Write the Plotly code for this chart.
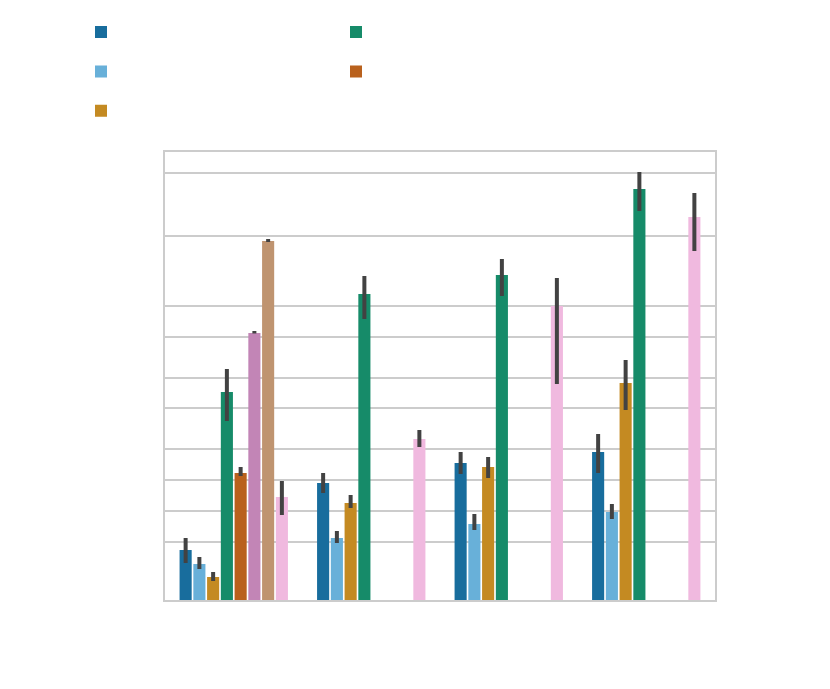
import plotly.graph_objects as go

CATEGORIES = ["A", "B", "C", "D"]

# hue order, colours (desaturated colorblind palette)
HUES = ["h1", "h2", "h3", "h4", "h5", "h6", "h7", "h8"]
COLORS = ["#186d9d", "#68b0d9", "#c48a22", "#168b69", "#b9611d", "#c285b6", "#bf9470", "#f0b9df"]
IN_LEGEND = [True, True, True, True, True, False, False, False]
LEGEND_RANK = [1, 3, 5, 2, 4, 6, 7, 8]

# bar means and confidence intervals per hue, one value per category (None = absent)
MEANS = {
    "h1": [5.0, 11.7, 13.7, 14.8],
    "h2": [3.6, 6.2, 7.6, 8.8],
    "h3": [2.3, 9.7, 13.3, 21.7],
    "h4": [20.8, 30.6, 32.5, 41.1],
    "h5": [12.7, None, None, None],
    "h6": [26.7, None, None, None],
    "h7": [35.9, None, None, None],
    "h8": [10.3, 16.1, 29.4, 38.3],
}
CI_LOW = {
    "h1": [3.7, 10.7, 12.6, 12.7],
    "h2": [3.1, 5.7, 7.0, 8.1],
    "h3": [1.9, 9.2, 12.2, 19.0],
    "h4": [17.9, 28.1, 30.4, 38.9],
    "h5": [12.4, None, None, None],
    "h6": [26.65, None, None, None],
    "h7": [35.8, None, None, None],
    "h8": [8.5, 15.3, 21.6, 34.9],
}
CI_HIGH = {
    "h1": [6.2, 12.7, 14.8, 16.6],
    "h2": [4.3, 6.9, 8.6, 9.6],
    "h3": [2.8, 10.5, 14.3, 24.0],
    "h4": [23.1, 32.4, 34.1, 42.8],
    "h5": [13.3, None, None, None],
    "h6": [26.9, None, None, None],
    "h7": [36.1, None, None, None],
    "h8": [11.9, 17.0, 32.2, 40.7],
}

GRID_VALUES = [5.8, 8.9, 12.0, 15.1, 19.2, 22.2, 26.3, 29.4, 36.4, 42.7]

fig = go.Figure()
for i, h in enumerate(HUES):
    xs, ys, up, dn = [], [], [], []
    for c, m, lo, hi in zip(CATEGORIES, MEANS[h], CI_LOW[h], CI_HIGH[h]):
        if m is None:
            continue
        xs.append(c)
        ys.append(m)
        up.append(hi - m)
        dn.append(m - lo)
    fig.add_trace(
        go.Bar(
            x=xs,
            y=ys,
            name=h,
            marker=dict(color=COLORS[i], line=dict(width=0)),
            showlegend=IN_LEGEND[i],
            legendrank=LEGEND_RANK[i],
            error_y=dict(type="data", array=up, arrayminus=dn, color="#424242", thickness=4, width=0),
        )
    )

fig.update_layout(
    width=830,
    height=689,
    barmode="group",
    bargap=0.2,
    bargroupgap=0.12,
    paper_bgcolor="white",
    plot_bgcolor="white",
    font=dict(family="DejaVu Sans", color="white", size=14),
    margin=dict(l=157, r=123, t=144, b=97, autoexpand=False),
    legend=dict(
        orientation="h",
        x=-0.18,
        xanchor="left",
        y=1.323,
        yanchor="top",
        entrywidth=180,
        entrywidthmode="pixels",
        font=dict(size=28, color="white"),
        itemwidth=60,
        tracegroupgap=0,
    ),
)
fig.update_xaxes(
    categoryorder="array",
    categoryarray=CATEGORIES,
    range=[-0.5, 3.5],
    showgrid=False,
    showline=True,
    linecolor="#cccccc",
    linewidth=2,
    mirror=True,
    ticks="",
    showticklabels=False,
)
fig.update_yaxes(
    range=[0, 44.8],
    tickvals=GRID_VALUES,
    showgrid=True,
    gridcolor="#cccccc",
    gridwidth=1.5,
    showline=True,
    linecolor="#cccccc",
    linewidth=2,
    mirror=True,
    zeroline=False,
    ticks="",
    showticklabels=False,
)

fig.write_html("out.html")
